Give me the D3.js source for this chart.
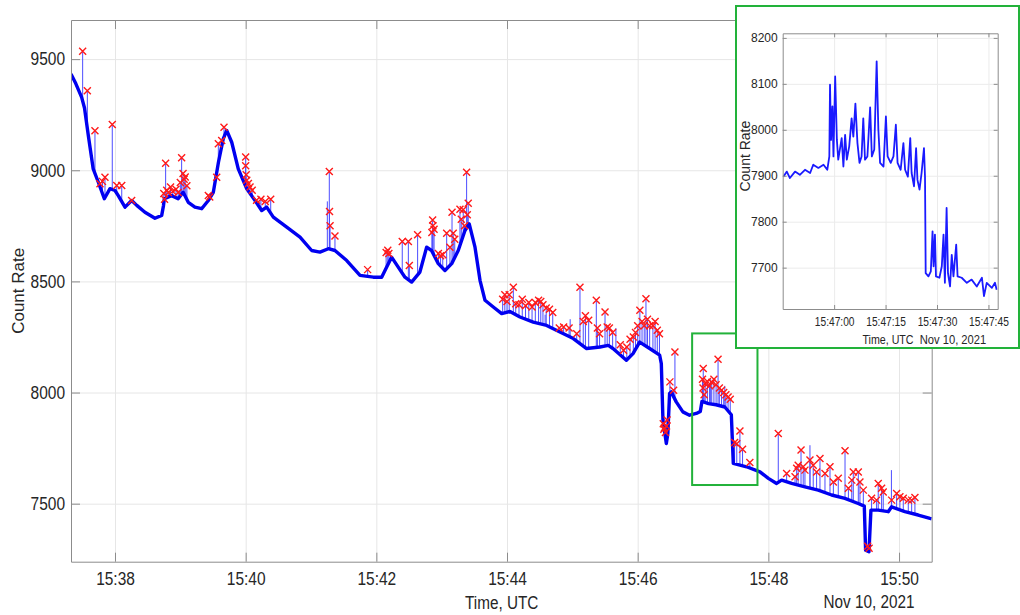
<!DOCTYPE html>
<html><head><meta charset="utf-8">
<script src="https://cdn.jsdelivr.net/npm/d3@7"></script>
<style>
body{margin:0;background:#fff;}
svg{display:block;font-family:"Liberation Sans",Arial,Helvetica,sans-serif;}
</style>
</head><body>
<svg id="chart" width="1020" height="615"></svg>
<script>
// All times: seconds after Nov 10, 2021 15:37:00 UTC
const mainTimes = [19.6,24,29.4,32,35.5,40,44.7,50.2,55.4,60,63,69.2,75.3,80,87.5,96.7,102.9,104.5,105.3,112,118,122.6,127.3,133.4,139.6,145.7,150.3,155,159.4,162.6,167.2,173.2,181,188.6,194.7,199.3,205.4,217.7,229.9,240.6,248.2,255.9,262,272.8,285,297.2,304.9,309.4,314,320.1,326.3,332.4,340,346.2,350.7,356.9,363,369.2,375.2,381.4,385.3,390.6,395.2,399.8,407.4,415.1,422.7,431.9,444.1,456.4,468.6,480.9,493.1,505.4,513,517.3,529.6,535.7,541.8,551,560.2,561.7,563.2,566.3,567.7,569.3,570.8,575.4,581.5,587.6,593.8,597.5,599,605,612,620,626,627.8,640,652.3,660,667.6,672.2,681.4,693.6,705.8,718.1,730.3,742.5,748.1,749.3,752.4,754.2,760.9,770.1,773.2,785.4,797.6,808.4,810];
const mainValues = [9433,9390,9328,9280,9156,9006,8946,8872,8917,8909,8886,8834,8864,8842,8811,8784,8797,8840,8872,8886,8872,8901,8856,8834,8827,8864,8901,9036,9141,9179,9126,9006,8917,8864,8819,8834,8789,8744,8699,8639,8632,8647,8639,8594,8527,8519,8519,8564,8609,8564,8519,8497,8542,8654,8639,8580,8549,8580,8639,8729,8759,8654,8505,8415,8385,8355,8365,8340,8317,8302,8272,8243,8198,8205,8212,8198,8145,8175,8227,8198,8168,8130,7876,7771,7816,7996,8003,7958,7913,7898,7906,7915,7960,7950,7945,7935,7900,7681,7666,7643,7614,7591,7606,7591,7576,7561,7539,7524,7501,7489,7291,7284,7471,7471,7464,7486,7464,7449,7434,7432];

const peakTimes = [30.3,34.6,41.6,57.5,46.2,50.8,48.5,61.6,66.2,75.3,
  106.5,104.8,105.5,107.5,109,111,113,116,118,120,121.2,122.5,123.5,124.5,126,
  145.7,147,153.4,154.9,158,160.1,
  180,180,180.5,181,182.5,184,186,190,194,198,203,
  256.8,257,257.5,262,292,309,310.5,311.5,323.8,329.4,330.3,337.9,
  351.7,352,353,351,357,359,361,364.6,367.6,369.5,370.6,372,376.8,379.8,378,381,382.9,384.4,383.5,
  416,418,420,422,425.8,428,431,434,437,440,443,446,449,451,453,456,459,462,468,472,477,484,487,490,492,495,502,503,505,510,512,514,517,524,527,530,533,536,538,540,542,544,546,547.6,549,551,554,556,558,560,
  563.5,564.5,565.5,566.5,567,564,569.6,573,574.2,
  600.2,599.5,600,601,602,604,606,608,610,612,613.8,615,617,619,621,623,625,629,631,633.9,636.3,643,
  669.1,676.8,684.5,686,687.4,690,692,693.6,698.2,701.2,704.3,707.4,712,716.6,719.7,724.2,730.4,733.5,736.6,738,742.6,744.1,747.2,751.2,752.5,754.8,759.4,760.9,764,765.5,773.2,777.8,780.8,783.9,788.5,791.6,794.6];
const peakValues = [9535,9358,9178,9206,8939,8969,8950,8931,8931,8864,
  9032,8895,8870,8910,8900,8925,8905,8915,8900,8945,9056,8985,8960,8970,8930,
  8886,8880,8969,9119,9134,9193,
  9060,9020,8980,8955,8940,8925,8910,8865,8870,8860,8870,
  8994,8815,8750,8704,8553,8630,8640,8625,8680,8680,8572,8710,
  8776,8750,8735,8720,8625,8615,8620,8717,8654,8811,8717,8690,8825,8822,8780,8750,8991,8852,8800,
  8420,8440,8410,8440,8474,8400,8395,8420,8390,8405,8385,8405,8415,8410,8395,8380,8375,8360,8290,8295,8290,8265,8474,8320,8345,8325,8415,8290,8265,8362,8295,8290,8270,8215,8190,8205,8240,8250,8270,8300,8370,8320,8300,8422,8330,8300,8300,8320,8280,8265,
  7860,7840,7820,7850,7876,7835,8048,8010,8182,
  8108,8060,8020,7990,8040,8050,8030,8045,8060,8035,8150,8020,8010,8000,7990,7980,7970,7775,7770,7827,7745,7685,
  7816,7636,7621,7659,7673,7741,7666,7651,7696,7673,7643,7703,7636,7666,7598,7614,7738,7569,7606,7643,7643,7598,7561,7309,7300,7524,7516,7591,7569,7553,7516,7546,7531,7524,7516,7516,7528];

const bareSpikeTimes = [698.2,773,119,255,455,478,520,607,620];
const bareSpikeValues = [7763,7651,8910,8860,8350,8330,8290,8060,8030];

const insetTimes = [585.2,586.2,587.1,588.6,590,591.5,593,593.9,595.4,596.9,598,598.6,598.8,599.1,599.5,599.8,600.3,600.8,601.2,602.2,602.7,603.2,603.7,604.4,605.1,605.6,606.2,606.8,607.4,608,608.5,609,609.7,610.5,611,611.7,612.4,612.9,613.4,614.4,615.1,615.6,616.5,617.3,618,618.5,619.4,620.2,620.7,621.5,622.2,622.6,623.3,623.9,624.3,624.9,625.5,626.2,626.5,626.7,627.5,628.2,628.7,629,629.4,629.7,630.7,631.4,631.9,632.3,632.8,633.2,633.8,634.3,634.8,635.6,636,637.2,638.7,640.1,641.6,643.1,643.7,644.5,646,646.9,647.4];
const insetValues = [7898,7909,7895,7909,7902,7913,7906,7924,7917,7924,7913,7942,8098,7978,8051,7942,8116,7978,7935,7982,7920,7989,7935,7964,8025,7985,8057,7971,7928,7942,8025,7935,7942,8049,7942,7957,8149,8000,7928,7920,8029,7942,7928,7942,8011,7928,7913,7971,7913,7898,7982,7906,7877,7960,7891,7870,7906,7960,7898,7688,7681,7692,7779,7703,7772,7681,7678,7703,7772,7667,7830,7688,7659,7728,7681,7750,7681,7678,7667,7674,7659,7678,7638,7667,7656,7667,7652];

const mainXTickLabels = ["15:38","15:40","15:42","15:44","15:46","15:48","15:50"];
const mainYTickValues = [7500,8000,8500,9000,9500];
const insetXTickLabels = ["15:47:00","15:47:15","15:47:30","15:47:45"];
const insetYTickValues = [7700,7800,7900,8000,8100,8200];
const zoomBoxTimes = [590,650];
const zoomBoxValues = [7584,8266];
const mainTimeRange = [19.6,810];
const mainValueRange = [7239,9676];
const insetTimeRange = [585,647.7];
const insetValueRange = [7610,8210];
const dateLabel = "Nov 10, 2021";

const origin = Date.UTC(2021,10,10,15,37,0);
const toDate = s => new Date(origin + s*1000);
const labelToSec = str => { const p = str.split(":").map(Number); return p[0]*3600 + p[1]*60 + (p[2]||0) - (15*3600+37*60); };
const numFmt = d3.format("d");

const svg = d3.select("#chart");
const textCol = "#262626", axisCol = "#8c8c8c", gridCol = "#e6e6e6";
function squeeze(sel,k){ sel.each(function(){ const L=this.getComputedTextLength(); if(L>0){ this.setAttribute("textLength",L*k); this.setAttribute("lengthAdjust","spacingAndGlyphs"); } }); }

// ---------- MAIN ----------
const M = {l:71, t:20, r:931.7, b:561.7};
const x = d3.scaleUtc().domain(mainTimeRange.map(toDate)).range([M.l,M.r]);
const y = d3.scaleLinear().domain(mainValueRange).range([M.b,M.t]);
const xTickDates = mainXTickLabels.map(s=>toDate(labelToSec(s)));

svg.append("defs").append("clipPath").attr("id","mclip").append("rect")
  .attr("x",M.l).attr("y",M.t).attr("width",M.r-M.l).attr("height",M.b-M.t);

// grid
const g = svg.append("g");
g.append("g").attr("transform",`translate(0,${M.b})`)
  .call(d3.axisBottom(x).tickValues(xTickDates).tickSize(-(M.b-M.t)).tickFormat(""))
  .call(s=>{s.select(".domain").remove(); s.selectAll("line").attr("stroke",gridCol);});
g.append("g").attr("transform",`translate(${M.l},0)`)
  .call(d3.axisLeft(y).tickValues(mainYTickValues).tickSize(-(M.r-M.l)).tickFormat(""))
  .call(s=>{s.select(".domain").remove(); s.selectAll("line").attr("stroke",gridCol);});

// data
const series = mainTimes.map((t,i)=>({t,v:mainValues[i]}));
const plot = svg.append("g").attr("clip-path","url(#mclip)");
const bis = d3.bisector(d=>d.t).left;
function baseAt(t){ const i=Math.max(1,Math.min(series.length-1,bis(series,t))); const a=series[i-1], b=series[i]; const f=(t-a.t)/(b.t-a.t); return a.v+(b.v-a.v)*Math.max(0,Math.min(1,f)); }

const spikes = peakTimes.map((t,i)=>({t,v:peakValues[i]})).concat(bareSpikeTimes.map((t,i)=>({t,v:bareSpikeValues[i]})));
plot.append("g").selectAll("line").data(spikes).join("line")
  .attr("x1",d=>x(toDate(d.t))).attr("x2",d=>x(toDate(d.t)))
  .attr("y1",d=>y(baseAt(d.t))).attr("y2",d=>y(d.v))
  .attr("stroke","#4d4dff").attr("stroke-width",1);

plot.append("path").datum(series)
  .attr("d",d3.line().x(d=>x(toDate(d.t))).y(d=>y(d.v)))
  .attr("fill","none").attr("stroke","#0000f0").attr("stroke-width",3.4).attr("stroke-linejoin","round");

plot.append("g").selectAll("path").data(peakTimes.map((t,i)=>({t,v:peakValues[i]}))).join("path")
  .attr("transform",d=>`translate(${x(toDate(d.t))},${y(d.v)})`)
  .attr("d","M-3.5,-3.5L3.5,3.5M-3.5,3.5L3.5,-3.5")
  .attr("stroke","#ff1a1a").attr("stroke-width",1.4).attr("fill","none");

// axes (box with inward ticks)
function styleAxis(s){ s.select(".domain").attr("stroke",axisCol); s.selectAll(".tick line").attr("stroke",axisCol); s.selectAll("text").attr("fill",textCol); }
const ax = svg.append("g").attr("transform",`translate(0,${M.b})`)
  .call(d3.axisBottom(x).tickValues(xTickDates).tickFormat(d3.utcFormat("%H:%M")).tickSizeInner(-9).tickSizeOuter(0).tickPadding(11))
  .call(styleAxis);
ax.selectAll("text").attr("font-size",18);
squeeze(ax.selectAll("text"),0.86);
svg.append("g").attr("transform",`translate(0,${M.t})`)
  .call(d3.axisTop(x).tickValues(xTickDates).tickFormat("").tickSizeInner(-9).tickSizeOuter(0)).call(styleAxis);
const ay = svg.append("g").attr("transform",`translate(${M.l},0)`)
  .call(d3.axisLeft(y).tickValues(mainYTickValues).tickFormat(numFmt).tickSizeInner(-9).tickSizeOuter(0).tickPadding(6))
  .call(styleAxis);
ay.selectAll("text").attr("font-size",18);
squeeze(ay.selectAll("text"),0.86);
svg.append("g").attr("transform",`translate(${M.r},0)`)
  .call(d3.axisRight(y).tickValues(mainYTickValues).tickFormat("").tickSizeInner(-9).tickSizeOuter(0)).call(styleAxis);

svg.append("text").attr("transform",`translate(18,${(M.t+M.b)/2}) rotate(-90)`)
  .attr("text-anchor","middle").attr("dominant-baseline","central")
  .attr("font-size",17).attr("fill",textCol).text("Count Rate");
const xl = svg.append("text").attr("x",501.7).attr("y",609).attr("text-anchor","middle")
  .attr("font-size",18).attr("fill",textCol).text("Time, UTC");
squeeze(xl,0.85);
const dl = svg.append("text").attr("x",869).attr("y",608).attr("text-anchor","middle")
  .attr("font-size",18).attr("fill",textCol).text(dateLabel);
squeeze(dl,0.85);

// zoom box
svg.append("rect")
  .attr("x",x(toDate(zoomBoxTimes[0]))).attr("y",y(zoomBoxValues[1]))
  .attr("width",x(toDate(zoomBoxTimes[1]))-x(toDate(zoomBoxTimes[0])))
  .attr("height",y(zoomBoxValues[0])-y(zoomBoxValues[1]))
  .attr("fill","none").attr("stroke","#22b23a").attr("stroke-width",2);

// ---------- INSET ----------
svg.append("rect").attr("x",736).attr("y",6).attr("width",283).attr("height",342)
  .attr("fill","#fff").attr("stroke","#22b23a").attr("stroke-width",2);
const I = {l:782.7, t:33.3, r:997.7, b:309};
const xi = d3.scaleUtc().domain(insetTimeRange.map(toDate)).range([I.l,I.r]);
const yi = d3.scaleLinear().domain(insetValueRange).range([I.b,I.t]);
const xiTicks = insetXTickLabels.map(s=>toDate(labelToSec(s)));
svg.append("defs").append("clipPath").attr("id","iclip").append("rect")
  .attr("x",I.l).attr("y",I.t).attr("width",I.r-I.l).attr("height",I.b-I.t);
svg.append("g").attr("transform",`translate(0,${I.b})`)
  .call(d3.axisBottom(xi).tickValues(xiTicks).tickSize(-(I.b-I.t)).tickFormat(""))
  .call(s=>{s.select(".domain").remove(); s.selectAll("line").attr("stroke","#ebebeb");});
svg.append("g").attr("transform",`translate(${I.l},0)`)
  .call(d3.axisLeft(yi).tickValues(insetYTickValues).tickSize(-(I.r-I.l)).tickFormat(""))
  .call(s=>{s.select(".domain").remove(); s.selectAll("line").attr("stroke","#ebebeb");});
svg.append("g").attr("clip-path","url(#iclip)").append("path")
  .datum(insetTimes.map((t,i)=>({t,v:insetValues[i]})))
  .attr("d",d3.line().x(d=>xi(toDate(d.t))).y(d=>yi(d.v)))
  .attr("fill","none").attr("stroke","#1a1aff").attr("stroke-width",1.8).attr("stroke-linejoin","round");
const iax = svg.append("g").attr("transform",`translate(0,${I.b})`)
  .call(d3.axisBottom(xi).tickValues(xiTicks).tickFormat(d3.utcFormat("%H:%M:%S")).tickSizeInner(-4).tickSizeOuter(0).tickPadding(8))
  .call(styleAxis);
iax.selectAll("text").attr("font-size",12);
squeeze(iax.selectAll("text"),0.85);
svg.append("g").attr("transform",`translate(0,${I.t})`)
  .call(d3.axisTop(xi).tickValues(xiTicks).tickFormat("").tickSizeInner(-4).tickSizeOuter(0)).call(styleAxis);
const iay = svg.append("g").attr("transform",`translate(${I.l},0)`)
  .call(d3.axisLeft(yi).tickValues(insetYTickValues).tickFormat(numFmt).tickSizeInner(-4).tickSizeOuter(0).tickPadding(5))
  .call(styleAxis);
iay.selectAll("text").attr("font-size",12);
svg.append("g").attr("transform",`translate(${I.r},0)`)
  .call(d3.axisRight(yi).tickValues(insetYTickValues).tickFormat("").tickSizeInner(-4).tickSizeOuter(0)).call(styleAxis);
svg.append("text").attr("transform",`translate(745,${(I.t+I.b)/2 - 15}) rotate(-90)`)
  .attr("text-anchor","middle").attr("dominant-baseline","central")
  .attr("font-size",14).attr("fill",textCol).text("Count Rate");
const ixl = svg.append("text").attr("x",888).attr("y",344).attr("text-anchor","middle")
  .attr("font-size",13).attr("fill",textCol).text("Time, UTC");
squeeze(ixl,0.82);
const idl = svg.append("text").attr("x",953).attr("y",344).attr("text-anchor","middle")
  .attr("font-size",13).attr("fill",textCol).text(dateLabel);
squeeze(idl,0.86);
</script>
</body></html>
